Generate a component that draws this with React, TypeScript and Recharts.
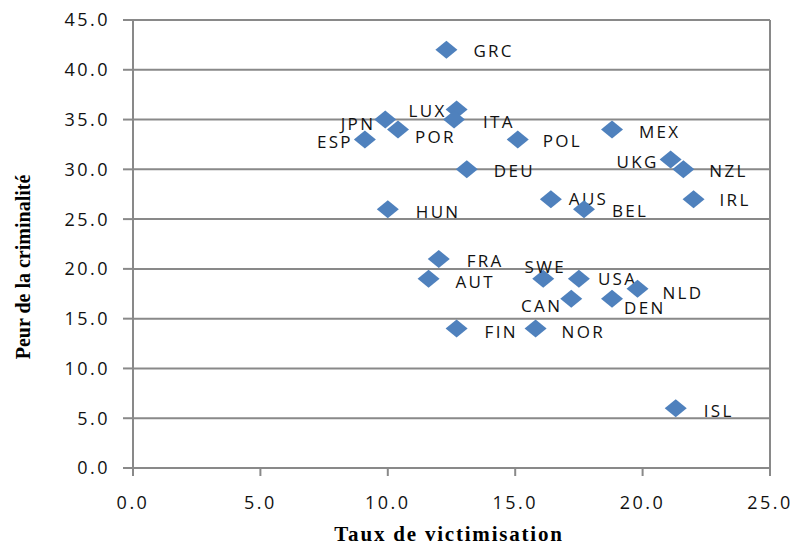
// App.tsx
import {
  ScatterChart,
  Scatter,
  XAxis,
  YAxis,
  CartesianGrid,
  ReferenceLine,
  Label,
} from 'recharts';

const countries = [
  'GRC', 'LUX', 'ITA', 'JPN', 'POR', 'ESP', 'POL', 'DEU', 'MEX', 'UKG', 'NZL', 'AUS', 'BEL',
  'IRL', 'HUN', 'FRA', 'AUT', 'SWE', 'USA', 'NLD', 'CAN', 'DEN', 'FIN', 'NOR', 'ISL',
];
const victimisation = [
  12.3, 12.7, 12.6, 9.9, 10.4, 9.1, 15.1, 13.1, 18.8, 21.1, 21.6, 16.4, 17.7,
  22.0, 10.0, 12.0, 11.6, 16.1, 17.5, 19.8, 17.2, 18.8, 12.7, 15.8, 21.3,
];
const peur = [
  42, 36, 35, 35, 34, 33, 33, 30, 34, 31, 30, 27, 26,
  27, 26, 21, 19, 19, 19, 18, 17, 17, 14, 14, 6,
];
const xTicks = [0, 5, 10, 15, 20, 25];
const yTicks = [0, 5, 10, 15, 20, 25, 30, 35, 40, 45];

// where each country label sits relative to its marker
const labelPlacement: Record<string, [number, number, 'start' | 'middle' | 'end']> = {
  GRC: [27, 1, 'start'],
  LUX: [-10, 1, 'end'],
  ITA: [29, 2, 'start'],
  JPN: [-10, 4, 'end'],
  POR: [17, 7, 'start'],
  ESP: [-12, 3, 'end'],
  POL: [25, 2, 'start'],
  DEU: [27, 2, 'start'],
  MEX: [27, 2, 'start'],
  UKG: [-12, 3, 'end'],
  NZL: [26, 2, 'start'],
  AUS: [18, 0, 'start'],
  BEL: [28, 2, 'start'],
  IRL: [26, 1, 'start'],
  HUN: [28, 3, 'start'],
  FRA: [28, 2, 'start'],
  AUT: [27, 3, 'start'],
  SWE: [2, -12, 'middle'],
  USA: [19, 0, 'start'],
  NLD: [25, 4, 'start'],
  CAN: [-9, 7, 'end'],
  DEN: [12, 9, 'start'],
  FIN: [28, 3, 'start'],
  NOR: [26, 3, 'start'],
  ISL: [28, 3, 'start'],
};

const data = countries.map((name, i) => ({ name, x: victimisation[i], y: peur[i] }));

const AXIS = '#898989';
const BLUE = '#4F81BD';
const SANS = '"Open Sans", Roboto, sans-serif';
const SERIF = '"Liberation Serif", "Times New Roman", serif';

const Diamond = (props: any) => {
  const { cx, cy, payload } = props;
  if (cx == null || cy == null) return null;
  const [dx, dy, anchor] = labelPlacement[payload.name] || [26, 2, 'start'];
  return (
    <g>
      <polygon
        points={`${cx},${cy - 9} ${cx + 11},${cy} ${cx},${cy + 9} ${cx - 11},${cy}`}
        fill={BLUE}
      />
      <text
        x={cx + dx}
        y={cy + dy + 6}
        textAnchor={anchor}
        fontFamily={SANS}
        fontSize={17}
        letterSpacing={2.3}
        fill="#111"
      >
        {payload.name}
      </text>
    </g>
  );
};

const tickStyle = { fontFamily: SANS, fontSize: 18, fill: '#111', letterSpacing: 2.5 };

export default function App() {
  return (
    <div style={{ position: 'absolute', left: 0, top: 0, background: '#fff' }}>
      <ScatterChart
        width={796}
        height={548}
        margin={{ top: 20, right: 26, bottom: 0, left: 0 }}
      >
        <CartesianGrid vertical={false} stroke={AXIS} strokeWidth={2} />
        <XAxis
          type="number"
          dataKey="x"
          domain={[0, 25]}
          ticks={xTicks}
          tickFormatter={(v: number) => v.toFixed(1)}
          height={80}
          tickSize={8}
          tickMargin={20}
          stroke={AXIS}
          strokeWidth={2}
          tick={tickStyle}
          interval={0}
        >
          <Label
            content={() => (
              <text
                x={449}
                y={541}
                textAnchor="middle"
                fontFamily={SERIF}
                fontWeight="bold"
                fontSize={21}
                letterSpacing={1.8}
                fill="#000"
              >
                Taux de victimisation
              </text>
            )}
          />
        </XAxis>
        <YAxis
          type="number"
          dataKey="y"
          domain={[0, 45]}
          ticks={yTicks}
          tickFormatter={(v: number) => v.toFixed(1)}
          width={133}
          tickSize={10}
          tickMargin={13}
          stroke={AXIS}
          strokeWidth={2}
          tick={tickStyle}
          interval={0}
        >
          <Label
            content={() => (
              <text
                transform="translate(30,267) rotate(-90)"
                textAnchor="middle"
                fontFamily={SERIF}
                fontWeight="bold"
                fontSize={20}
                fill="#000"
              >
                Peur de la criminalité
              </text>
            )}
          />
        </YAxis>
        <ReferenceLine x={25} stroke={AXIS} strokeWidth={2} />
        <Scatter data={data} shape={Diamond} isAnimationActive={false} />
      </ScatterChart>
    </div>
  );
}
